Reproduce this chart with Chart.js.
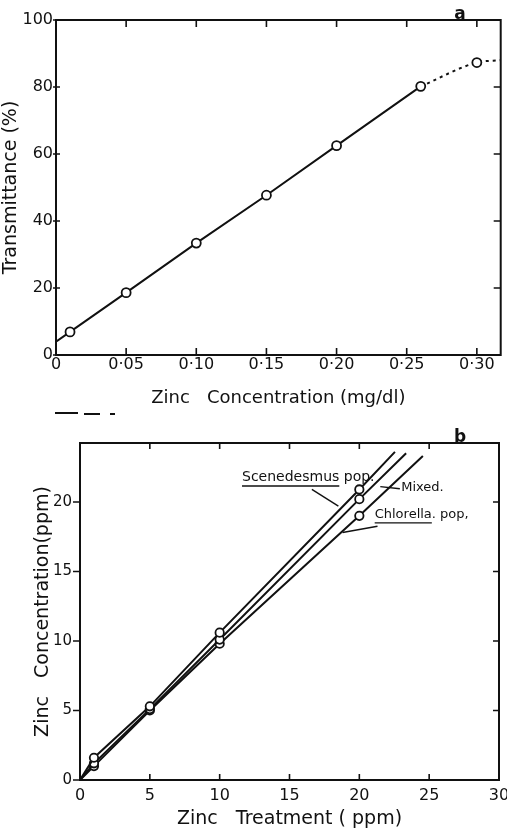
<!DOCTYPE html>
<html>
<head>
<meta charset="utf-8">
<script src="https://cdn.jsdelivr.net/npm/chart.js@4"></script>
<style>
  body { margin: 0; background: #fff; }
  #wrapA { position: absolute; left: 0; top: 0; width: 507px; height: 420px; }
  #wrapB { position: absolute; left: 0; top: 420px; width: 507px; height: 410px; }
</style>
</head>
<body>
<div id="wrapA"><canvas id="chartA"></canvas></div>
<div id="wrapB"><canvas id="chartB"></canvas></div>
<script>
// panel a: transmittance vs zinc concentration
const concA = [0, 0.01, 0.05, 0.10, 0.15, 0.20, 0.26];
const transA = [4, 6.9, 18.6, 33.4, 47.7, 62.5, 80.2];
const curveConcA = [0.26, 0.30, 0.317];
const curveTransA = [80.2, 87.3, 88];
const xTicksA = [0, 0.05, 0.10, 0.15, 0.20, 0.25, 0.30];
const yTicksA = [0, 20, 40, 60, 80, 100];

// panel b: zinc concentration vs zinc treatment
const seriesNames = ['Scenedesmus pop.', 'Mixed.', 'Chlorella. pop,'];
const treatB = [0, 1, 5, 10, 20];
const scenedesmusB = [0, 1.6, 5.3, 10.6, 20.9];
const mixedB = [0, 1.2, 5.1, 10.1, 20.2];
const chlorellaB = [0, 1.0, 5.0, 9.8, 19.0];
const lineEndX = [22.55, 23.35, 24.55];
const lineEndY = [23.6, 23.5, 23.3];
const xTicksB = [0, 5, 10, 15, 20, 25, 30];
const yTicksB = [0, 5, 10, 15, 20];

const ink = '#111';
const FONT = 'DejaVu Sans, sans-serif';
Chart.defaults.font.family = FONT;
Chart.defaults.color = ink;

function pts(xs, ys) { return xs.map((x, i) => ({ x: x, y: ys[i] })); }

// frame + inward ticks on all four sides
const framePlugin = {
  id: 'frame',
  afterDraw(chart, args, o) {
    const ctx = chart.ctx, a = chart.chartArea;
    const sx = chart.scales.x, sy = chart.scales.y;
    ctx.save();
    ctx.strokeStyle = ink;
    ctx.lineWidth = 2;
    ctx.strokeRect(a.left, a.top, a.right - a.left, a.bottom - a.top);
    ctx.lineWidth = 1.6;
    ctx.beginPath();
    sx.ticks.forEach(t => {
      const px = sx.getPixelForValue(t.value);
      ctx.moveTo(px, a.bottom); ctx.lineTo(px, a.bottom - o.len);
      ctx.moveTo(px, a.top); ctx.lineTo(px, a.top + o.len);
    });
    sy.ticks.forEach(t => {
      const py = sy.getPixelForValue(t.value);
      ctx.moveTo(a.left - o.leftOut, py); ctx.lineTo(a.left + o.leftIn, py);
      ctx.moveTo(a.right, py); ctx.lineTo(a.right - o.len, py);
    });
    ctx.stroke();
    // panel letter
    ctx.fillStyle = ink;
    ctx.font = 'bold 17px ' + FONT;
    ctx.textAlign = 'center';
    ctx.textBaseline = 'middle';
    ctx.fillText(o.letter, o.letterX, a.top - 5);
    // stray print marks under panel a
    if (o.marks) {
      ctx.lineWidth = 2;
      ctx.beginPath();
      ctx.moveTo(55, 413); ctx.lineTo(78, 413);
      ctx.moveTo(84, 414); ctx.lineTo(100, 414);
      ctx.moveTo(110, 414); ctx.lineTo(115, 414);
      ctx.stroke();
    }
    ctx.restore();
  }
};

function fixedAxis(size, vertical) {
  return function (scale) {
    if (vertical) scale.width = size; else scale.height = size;
    scale.paddingLeft = 0; scale.paddingRight = 0;
    scale.paddingTop = 0; scale.paddingBottom = 0;
  };
}
function setTicks(values) {
  return function (scale) { scale.ticks = values.map(v => ({ value: v })); };
}

const circle = { pointStyle: 'circle', pointBackgroundColor: '#fff', pointBorderColor: ink, pointBorderWidth: 1.8 };

new Chart(document.getElementById('chartA'), {
  type: 'scatter',
  data: {
    datasets: [
      Object.assign({
        data: pts(concA, transA), showLine: true, borderColor: ink, borderWidth: 2,
        pointRadius: concA.map((c, i) => i === 0 ? 0 : 4.5)
      }, circle),
      Object.assign({
        data: pts(curveConcA, curveTransA), showLine: true, borderColor: ink, borderWidth: 2,
        borderDash: [3, 4], cubicInterpolationMode: 'monotone',
        pointRadius: [0, 4.5, 0]
      }, circle)
    ]
  },
  options: {
    responsive: true, maintainAspectRatio: false, animation: false,
    layout: { padding: { left: 0, right: 5, top: 20, bottom: 10 } },
    plugins: { legend: { display: false }, tooltip: { enabled: false },
      frame: { len: 7, leftOut: 3, leftIn: 4, letter: 'a', letterX: 460, marks: true } },
    scales: {
      x: {
        type: 'linear', min: 0, max: 0.317,
        afterFit: fixedAxis(55, false), afterBuildTicks: setTicks(xTicksA),
        grid: { display: false, drawTicks: false }, border: { display: false },
        ticks: { padding: 0, font: { size: 16 }, color: ink,
          callback: v => v === 0 ? '0' : v.toFixed(2).replace('.', '\u00b7') },
        title: { display: true, text: 'Zinc   Concentration (mg/dl)', font: { size: 18 }, color: ink, padding: { top: 0, bottom: 1 } }
      },
      y: {
        min: 0, max: 100,
        afterFit: fixedAxis(56, true), afterBuildTicks: setTicks(yTicksA),
        grid: { display: false, drawTicks: false }, border: { display: false },
        ticks: { padding: 3, font: { size: 16 }, color: ink },
        title: { display: true, text: 'Transmittance (%)', font: { size: 19 }, color: ink, padding: { top: 0, bottom: 2 } }
      }
    }
  },
  plugins: [framePlugin]
});

// text labels with leader lines for panel b, placed in data units
const labelPlugin = {
  id: 'labelsB',
  afterDraw(chart) {
    const ctx = chart.ctx, sx = chart.scales.x, sy = chart.scales.y;
    const X = v => sx.getPixelForValue(v), Y = v => sy.getPixelForValue(v);
    ctx.save();
    ctx.fillStyle = ink; ctx.strokeStyle = ink; ctx.lineWidth = 1.4;
    ctx.textAlign = 'left'; ctx.textBaseline = 'middle';
    function label(text, under, x, y, size) {
      ctx.font = size + 'px ' + FONT;
      ctx.fillText(text, X(x), Y(y));
      const w = ctx.measureText(under).width;
      if (under) {
        ctx.beginPath();
        ctx.moveTo(X(x), Y(y) + size * 0.65); ctx.lineTo(X(x) + w, Y(y) + size * 0.65);
        ctx.stroke();
      }
    }
    function lead(x1, y1, x2, y2) {
      ctx.beginPath(); ctx.moveTo(X(x1), Y(y1)); ctx.lineTo(X(x2), Y(y2)); ctx.stroke();
    }
    label(seriesNames[0], 'Scenedesmus', 11.6, 21.8, 14);
    lead(16.6, 20.9, 18.5, 19.7);
    label(seriesNames[1], '', 23.0, 21.0, 13);
    lead(21.5, 21.1, 22.9, 20.95);
    label(seriesNames[2], 'Chlorella', 21.1, 19.1, 13);
    lead(21.3, 18.25, 18.8, 17.8);
    ctx.restore();
  }
};

function seriesB(ys, k) {
  const d = pts(treatB, ys);
  d.push({ x: lineEndX[k], y: lineEndY[k] });
  return Object.assign({
    label: seriesNames[k], data: d, showLine: true, borderColor: ink, borderWidth: 2,
    pointRadius: d.map((p, i) => (i === 0 || i === d.length - 1) ? 0 : 4.2)
  }, circle);
}

new Chart(document.getElementById('chartB'), {
  type: 'scatter',
  data: { datasets: [seriesB(scenedesmusB, 0), seriesB(mixedB, 1), seriesB(chlorellaB, 2)] },
  options: {
    responsive: true, maintainAspectRatio: false, animation: false,
    layout: { padding: { left: 32, right: 8, top: 23, bottom: 0 } },
    plugins: { legend: { display: false }, tooltip: { enabled: false },
      frame: { len: 6, leftOut: 7, leftIn: 0, letter: 'b', letterX: 460, marks: false } },
    scales: {
      x: {
        type: 'linear', min: 0, max: 30,
        afterFit: fixedAxis(50, false), afterBuildTicks: setTicks(xTicksB),
        grid: { display: false, drawTicks: false }, border: { display: false },
        ticks: { padding: 6, font: { size: 16 }, color: ink },
        title: { display: true, text: 'Zinc   Treatment ( ppm)', font: { size: 19 }, color: ink, padding: { top: 0, bottom: 0 } }
      },
      y: {
        min: 0, max: 24.24,
        afterFit: fixedAxis(48, true), afterBuildTicks: setTicks(yTicksB),
        grid: { display: false, drawTicks: false }, border: { display: false },
        ticks: { padding: 8, font: { size: 15 }, color: ink },
        title: { display: true, text: 'Zinc   Concentration(ppm)', font: { size: 19 }, color: ink, padding: { top: 0, bottom: 2 } }
      }
    }
  },
  plugins: [framePlugin, labelPlugin]
});
</script>
</body>
</html>
